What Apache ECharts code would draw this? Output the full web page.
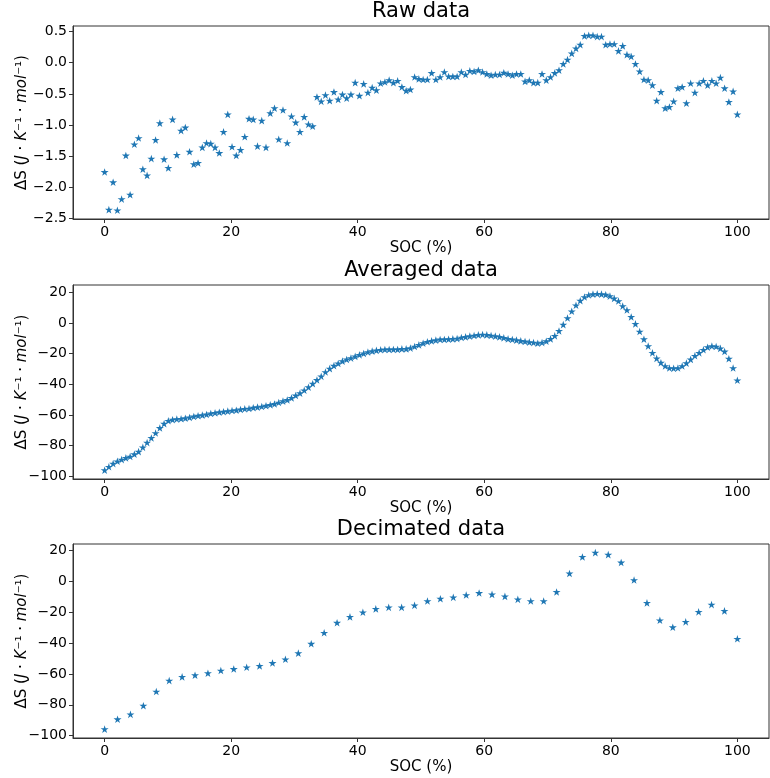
<!DOCTYPE html>
<html>
<head>
<meta charset="utf-8">
<script src="https://cdn.jsdelivr.net/npm/echarts@6/dist/echarts.min.js"></script>
<style>
html,body{margin:0;padding:0;background:#fff;}
#main{width:770px;height:778px;}
</style>
</head>
<body>
<div id="main"></div>
<script>
// ---- Data ----
const titles = ['Raw data', 'Averaged data', 'Decimated data'];
const xTicks = [0, 20, 40, 60, 80, 100];
const rawTicks = [-2.5, -2.0, -1.5, -1.0, -0.5, 0.0, 0.5];
const avgTicks = [-100, -80, -60, -40, -20, 0, 20];
const decTicks = [-100, -80, -60, -40, -20, 0, 20];

const rawValues = [
-1.755, -2.36, -1.92, -2.37, -2.19, -1.49, -2.12, -1.31, -1.21, -1.71,
-1.81, -1.54, -1.24, -0.97, -1.55, -1.69, -0.91, -1.48, -1.09, -1.04,
-1.43, -1.63, -1.61, -1.36, -1.29, -1.30, -1.36, -1.45, -1.11, -0.83,
-1.35, -1.49, -1.40, -1.19, -0.90, -0.91, -1.34, -0.93, -1.36, -0.81,
-0.73, -1.23, -0.76, -1.29, -0.86, -0.96, -1.11, -0.87, -0.99, -1.02,
-0.55, -0.62, -0.52, -0.61, -0.47, -0.59, -0.51, -0.57, -0.51, -0.32,
-0.53, -0.34, -0.48, -0.40, -0.44, -0.33, -0.31, -0.28, -0.32, -0.29,
-0.39, -0.45, -0.43, -0.23,
-0.26, -0.27, -0.27, -0.165, -0.27, -0.23, -0.15, -0.22, -0.22, -0.22,
-0.15, -0.19, -0.13, -0.14, -0.12, -0.15, -0.18, -0.20, -0.19, -0.19,
-0.16, -0.18, -0.20, -0.18, -0.18, -0.30, -0.28, -0.32, -0.32, -0.18,
-0.28, -0.23, -0.165, -0.12, -0.02, 0.05, 0.15, 0.23, 0.29, 0.43,
0.44, 0.44, 0.42, 0.42, 0.29, 0.30, 0.30, 0.19, 0.27, 0.13,
0.10, -0.02, -0.14, -0.27, -0.28, -0.36, -0.61, -0.47, -0.73, -0.71,
-0.62, -0.41, -0.39, -0.65, -0.33, -0.48, -0.33, -0.29, -0.36, -0.29,
-0.33, -0.24, -0.41, -0.63, -0.46, -0.83
];

const avgValues = [
-96.0, -93.8, -91.7, -90.2, -89.1, -88.0, -87.1, -85.6, -83.9, -81.1,
-78.0, -75.0, -71.8, -68.5, -65.7, -63.8, -63.1, -62.7, -62.5, -62.1,
-61.6, -61.0, -60.5, -60.1, -59.7, -59.0, -58.6, -58.2, -57.9, -57.5,
-57.1, -56.9, -56.4, -56.0, -55.8, -55.3, -54.9, -54.5, -54.0, -53.4,
-52.8, -51.9, -51.0, -50.2, -48.9, -47.3, -45.8, -43.9, -41.9, -39.6,
-37.2, -34.8, -32.0, -29.8, -27.9, -26.4, -24.9, -23.8, -22.9, -21.8,
-20.8, -19.9, -19.0, -18.4, -17.9, -17.5, -17.3, -17.3, -17.3, -17.3,
-16.9, -16.9, -16.4, -15.4, -14.3, -13.2, -12.3, -11.7, -11.2, -10.8,
-10.8, -10.6, -10.4, -10.2, -9.5, -9.1, -8.6, -8.2, -7.8, -7.6,
-7.8, -8.2, -8.6, -9.1, -9.7, -10.4, -10.8, -11.2, -11.7, -12.1,
-12.5, -12.8, -13.2, -12.8, -11.9, -10.4, -8.4, -5.2, -1.1, 3.2,
7.6, 11.5, 14.5, 16.9, 18.2, 18.8, 19.0, 18.8, 18.4, 17.5,
16.0, 14.3, 11.0, 8.4, 3.9, -0.6, -5.6, -10.6, -15.1, -19.5,
-23.1, -25.9, -28.1, -29.4, -29.6, -29.4, -28.1, -26.2, -23.8, -21.4,
-19.5, -17.5, -15.8, -15.1, -15.4, -16.6, -18.6, -23.3, -29.4, -37.4
];

const decValues = [
-95.8, -89.4, -86.2, -80.6, -71.4, -64.3, -61.9, -60.8, -59.5, -57.8,
-56.8, -55.7, -54.8, -52.9, -50.5, -46.5, -40.4, -33.3, -26.8, -23.0,
-20.0, -17.8, -16.8, -16.8, -15.5, -12.7, -11.2, -10.3, -8.8, -7.5,
-8.4, -9.7, -11.6, -12.7, -12.7, -6.8, 5.2, 15.9, 18.7, 17.4,
12.3, 0.9, -13.9, -25.2, -29.7, -26.2, -19.7, -15.0, -19.1, -37.2
];

// SOC grid: evenly spaced from 0 to 100 (like numpy linspace)
function socGrid(n) { const a = []; for (let i = 0; i < n; i++) a.push(i * 100 / (n - 1)); return a; }
const rawSOC = socGrid(rawValues.length);
const avgSOC = socGrid(avgValues.length);
const decSOC = socGrid(decValues.length);

// ---- Chart ----
const FONT = 'DejaVu Sans';
const BLUE = '#1f77b4';
const STAR = 'path://M0,-1L0.2245,-0.309L0.951,-0.309L0.363,0.118L0.588,0.809L0,0.382L-0.588,0.809L-0.363,0.118L-0.951,-0.309L-0.2245,-0.309Z';
const minus = s => s.replace('-', '\u2212');

const grids = [
  {left: 73, width: 696, top: 26, height: 193},
  {left: 73, width: 696, top: 285, height: 194},
  {left: 73, width: 696, top: 544, height: 194}
].map(g => Object.assign(g, {show: true, borderColor: '#333', borderWidth: 1, containLabel: false}));

const yRanges = [[-2.51, 0.59], [-101.75, 24.75], [-101.55, 24.3]];
const yTickSets = [rawTicks, avgTicks, decTicks];
const yFormat = [v => minus(v.toFixed(1)), v => minus(String(Math.round(v))), v => minus(String(Math.round(v)))];

const yName = '{n|\u0394S (}{i|J}{n| \u00b7 }{i|K}{n|\u207b\u00b9 \u00b7 }{i|mol}{n|\u207b\u00b9)}';

const xAxes = grids.map((g, k) => ({
  type: 'value', gridIndex: k, min: -5, max: 105,
  name: 'SOC (%)', nameLocation: 'middle', nameGap: 22, nameMoveOverlap: false,
  nameTextStyle: {fontFamily: FONT, fontSize: 15, color: '#000'},
  axisLine: {show: true, onZero: false, lineStyle: {color: '#333', width: 1}},
  axisTick: {show: true, length: 4, customValues: xTicks, lineStyle: {color: '#333'}},
  axisLabel: {customValues: xTicks, fontFamily: FONT, fontSize: 14, color: '#000', margin: 6},
  splitLine: {show: false}
}));

const yAxes = grids.map((g, k) => ({
  type: 'value', gridIndex: k, min: yRanges[k][0], max: yRanges[k][1],
  name: yName, nameLocation: 'middle', nameRotate: 90, nameGap: 43, nameMoveOverlap: false,
  nameTextStyle: {
    fontFamily: FONT, fontSize: 15, color: '#000',
    rich: {
      n: {fontFamily: FONT, fontSize: 15, color: '#000'},
      i: {fontFamily: FONT, fontSize: 15, color: '#000', fontStyle: 'italic'}
    }
  },
  axisLine: {show: true, onZero: false, lineStyle: {color: '#333', width: 1}},
  axisTick: {show: true, length: 4, customValues: yTickSets[k], lineStyle: {color: '#333'}},
  axisLabel: {customValues: yTickSets[k], fontFamily: FONT, fontSize: 14, color: '#000', margin: 6, formatter: yFormat[k]},
  splitLine: {show: false}
}));

const titleTops = [1, 260, 519];
const title = titles.map((t, k) => ({
  text: t, left: 421, top: titleTops[k], textAlign: 'center', padding: 0,
  textStyle: {fontFamily: FONT, fontSize: 21, fontWeight: 'normal', color: '#000'}
}));

function mk(xs, ys, k) {
  return {
    type: 'scatter', xAxisIndex: k, yAxisIndex: k,
    data: xs.map((x, i) => [x, ys[i]]),
    symbol: STAR, symbolSize: [8, 7.6],
    itemStyle: {color: BLUE, opacity: 1},
    animation: false
  };
}

const chart = echarts.init(document.getElementById('main'), null, {renderer: 'canvas'});
chart.setOption({
  backgroundColor: '#fff',
  animation: false,
  title: title,
  grid: grids,
  xAxis: xAxes,
  yAxis: yAxes,
  series: [mk(rawSOC, rawValues, 0), mk(avgSOC, avgValues, 1), mk(decSOC, decValues, 2)]
});
</script>
</body>
</html>
